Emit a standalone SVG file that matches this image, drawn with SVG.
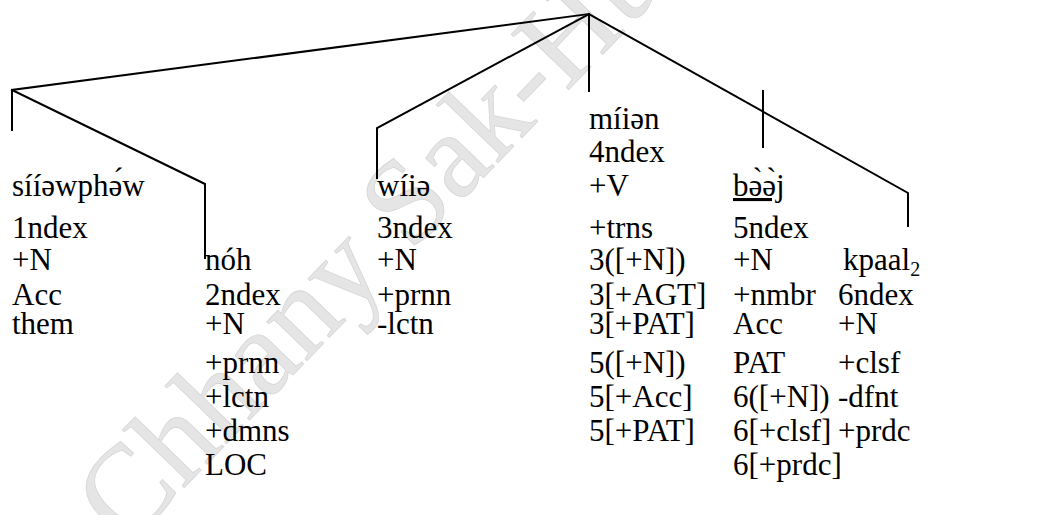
<svg xmlns="http://www.w3.org/2000/svg" width="1048" height="515" viewBox="0 0 1048 515" font-family="'Liberation Serif', 'Times New Roman', serif">
  <style>
    text { font-family: 'Liberation Serif', 'Times New Roman', serif; }
    .t { font-size: 31px; fill: #000; }
    .sub { font-size: 20px; }
    .edge { stroke: #000; stroke-width: 2; fill: none; stroke-linecap: square; stroke-linejoin: miter; }
    .wm { font-size: 122px; fill: #e5e5e5; stroke: #d6d6d6; stroke-width: 0.8; }
  </style>
  <rect width="1048" height="515" fill="#fff"/>

  <!-- background watermark -->
  <text class="wm" transform="translate(126,548) rotate(-46)">Chhany Sak-Hu</text>

  <!-- tree branches -->
  <g id="connectors">
    <polyline class="edge" points="12,130 12,90 589,14"/>
    <polyline class="edge" points="12,90 205,184 205,258"/>
    <polyline class="edge" points="377,178 377,128 589,14"/>
    <line class="edge" x1="589" y1="14" x2="589" y2="91"/>
    <line class="edge" x1="763" y1="91" x2="763" y2="147"/>
    <polyline class="edge" points="589,14 908,193 908,226"/>
  </g>

  <g id="node-1">
    <text class="t" x="12" y="196">sííəwphə́w</text>
    <text class="t" x="12" y="238">1ndex</text>
    <text class="t" x="12" y="270">+N</text>
    <text class="t" x="12" y="305">Acc</text>
    <text class="t" x="12" y="334">them</text>
  </g>

  <g id="node-2">
    <text class="t" x="205" y="270">nóh</text>
    <text class="t" x="205" y="305">2ndex</text>
    <text class="t" x="205" y="334">+N</text>
    <text class="t" x="205" y="373">+prnn</text>
    <text class="t" x="205" y="407">+lctn</text>
    <text class="t" x="205" y="441">+dmns</text>
    <text class="t" x="205" y="475">LOC</text>
  </g>

  <g id="node-3">
    <text class="t" x="377" y="196">wíiə</text>
    <text class="t" x="377" y="238">3ndex</text>
    <text class="t" x="377" y="270">+N</text>
    <text class="t" x="377" y="305">+prnn</text>
    <text class="t" x="377" y="334">-lctn</text>
  </g>

  <g id="node-4">
    <text class="t" x="589" y="129">míiən</text>
    <text class="t" x="589" y="162">4ndex</text>
    <text class="t" x="589" y="196">+V</text>
    <text class="t" x="589" y="238">+trns</text>
    <text class="t" x="589" y="270">3([+N])</text>
    <text class="t" x="589" y="305">3[+AGT]</text>
    <text class="t" x="589" y="334">3[+PAT]</text>
    <text class="t" x="589" y="373">5([+N])</text>
    <text class="t" x="589" y="407">5[+Acc]</text>
    <text class="t" x="589" y="441">5[+PAT]</text>
  </g>

  <g id="node-5">
    <text class="t" x="733" y="196" text-decoration="underline">bə̀ə̀j</text>
    <text class="t" x="733" y="238">5ndex</text>
    <text class="t" x="733" y="270">+N</text>
    <text class="t" x="733" y="305">+nmbr</text>
    <text class="t" x="733" y="334">Acc</text>
    <text class="t" x="733" y="373">PAT</text>
    <text class="t" x="733" y="407">6([+N])</text>
    <text class="t" x="733" y="441">6[+clsf]</text>
    <text class="t" x="733" y="475">6[+prdc]</text>
  </g>

  <g id="node-6">
    <text class="t" x="843" y="270">kpaal<tspan class="sub" dy="6">2</tspan></text>
    <text class="t" x="838" y="305">6ndex</text>
    <text class="t" x="838" y="334">+N</text>
    <text class="t" x="838" y="373">+clsf</text>
    <text class="t" x="838" y="407">-dfnt</text>
    <text class="t" x="838" y="441">+prdc</text>
  </g>
</svg>
